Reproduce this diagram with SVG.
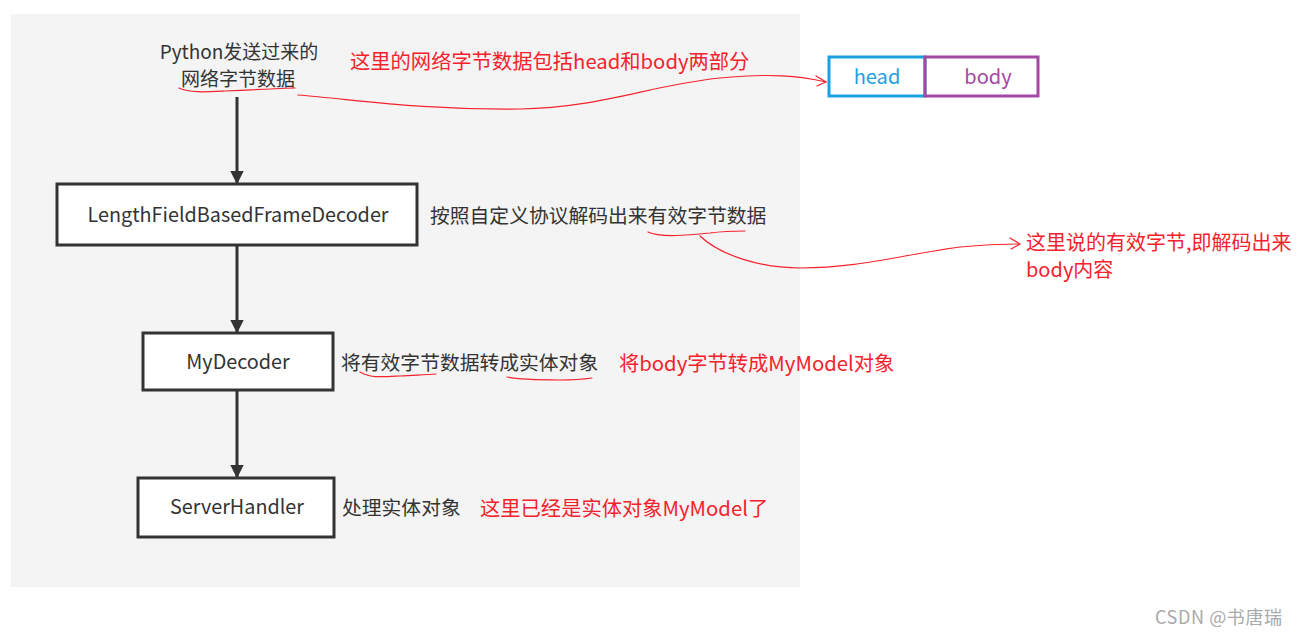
<svg xmlns="http://www.w3.org/2000/svg" width="1301" height="636" viewBox="0 0 1301 636">
<defs>
<style>
text{font-family:"Noto Sans CJK SC","Noto Sans",sans-serif;}
.t{font-size:19.8px;fill:#333;}
.n{font-size:19.8px;fill:#333;text-anchor:middle;}
.r{font-size:20.3px;fill:#f5222d;}
.box{fill:#fff;stroke:#333;stroke-width:3;}
.ln{stroke:#333;stroke-width:3;fill:none;}
.red{stroke:#f5222d;stroke-width:1.2;fill:none;stroke-linecap:round;}
</style>
<marker id="ah" viewBox="0 0 10 10" refX="9" refY="5" markerWidth="4.5" markerHeight="4.5" orient="auto" markerUnits="strokeWidth">
<path d="M0 0 L10 5 L0 10 Z" fill="#333"/>
</marker>
</defs>
<rect x="11" y="14" width="789" height="573" fill="#f4f4f4"/>
<g id="connectors">
<line class="ln" x1="237" y1="97" x2="237" y2="183" marker-end="url(#ah)"/>
<line class="ln" x1="237" y1="246" x2="237" y2="332" marker-end="url(#ah)"/>
<line class="ln" x1="237" y1="391" x2="237" y2="477" marker-end="url(#ah)"/>
</g>
<g id="source">
<text class="n" x="239" y="59" style="font-size:19px">Python发送过来的</text>
<text class="n" x="238" y="86" style="font-size:19px">网络字节数据</text>
</g>
<g id="lfbfd">
<rect class="box" x="57" y="184" width="360" height="61"/>
<text class="n" x="238" y="222">LengthFieldBasedFrameDecoder</text>
</g>
<g id="mydecoder">
<rect class="box" x="143" y="333" width="190" height="57"/>
<text class="n" x="238" y="369">MyDecoder</text>
</g>
<g id="serverhandler">
<rect class="box" x="138" y="478" width="196" height="59"/>
<text class="n" x="237" y="514">ServerHandler</text>
</g>
<g id="packet">
<rect x="829" y="57" width="96" height="39" fill="#fff" stroke="#1ba1e2" stroke-width="3"/>
<rect x="925" y="57" width="113" height="39" fill="none" stroke="#a349a4" stroke-width="3"/>
<text x="877" y="84" font-size="20" fill="#1ba1e2" text-anchor="middle">head</text>
<text x="988" y="84" font-size="20" fill="#a349a4" text-anchor="middle">body</text>
</g>
<g id="notes">
<text class="t" x="430" y="223">按照自定义协议解码出来有效字节数据</text>
<text class="t" x="341" y="370">将有效字节数据转成实体对象</text>
<text class="t" x="342" y="515">处理实体对象</text>
<text class="r" x="350" y="69">这里的网络字节数据包括head和body两部分</text>
<text class="r" x="1026" y="250" style="font-size:20px">这里说的有效字节,即解码出来</text>
<text class="r" x="1026" y="277" style="font-size:20px">body内容</text>
<text class="r" x="619" y="371">将body字节转成MyModel对象</text>
<text class="r" x="480" y="516">这里已经是实体对象MyModel了</text>
<text x="1155" y="624" font-size="18" fill="#aaa" letter-spacing="0.6">CSDN @书唐瑞</text>
</g>
<g id="annotations">
<path class="red" d="M179 88 C190 93 205 92 225 91 C245 90 265 89 295 88"/>
<path class="red" d="M298 95 C360 100 420 110 520 109 C600 108 650 85 720 78 C770 73 800 76 826 82"/>
<path class="red" d="M816 76 L826 82 L817 86"/>
<path class="red" d="M648 232 C660 238 690 235 710 233 C725 231 735 231 745 231"/>
<path class="red" d="M700 236 C720 255 760 268 800 268 C860 268 900 255 960 247 C990 244 1005 244 1019 244"/>
<path class="red" d="M1010 238 L1020 244 L1011 249"/>
<path class="red" d="M360 372 C370 378 380 377 400 376 C415 375 425 375 436 374"/>
<path class="red" d="M507 377 C520 380 540 380 560 380 C575 380 585 379 592 378"/>
</g>
</svg>
